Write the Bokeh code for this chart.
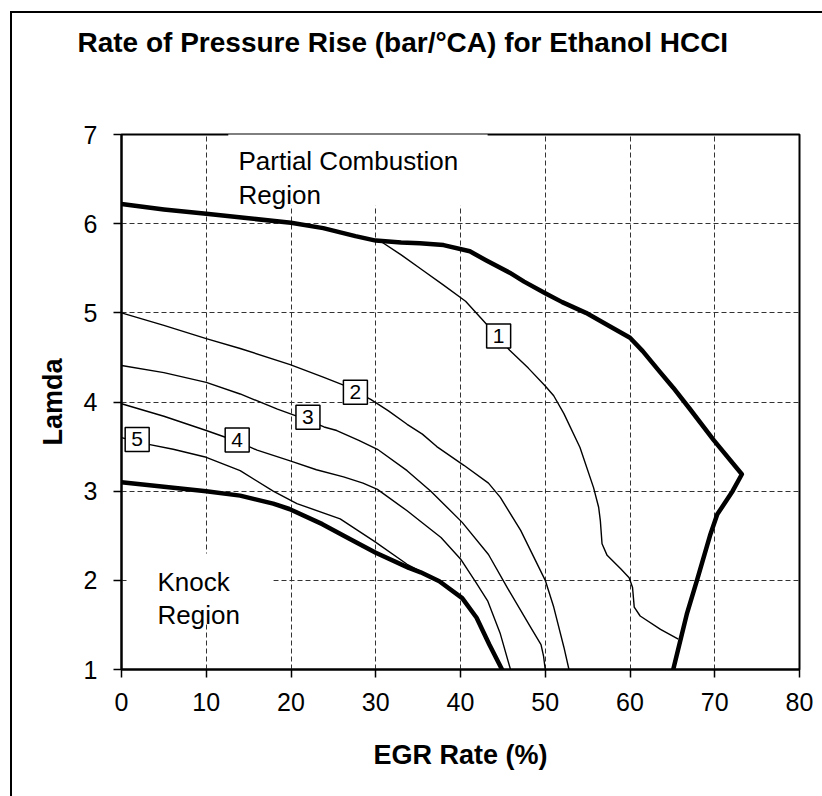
from bokeh.plotting import figure
from bokeh.models import Label, BoxAnnotation, ColumnDataSource, FixedTicker, Range1d, Title
from bokeh.embed import file_html
from bokeh.resources import INLINE
from bokeh.core.properties import value

FONT = "Liberation Sans"

x_ticks = [0, 10, 20, 30, 40, 50, 60, 70, 80]
y_ticks = [1, 2, 3, 4, 5, 6, 7]

# thick outer boundary (partial combustion limit)
upper_x = [0, 5, 10, 15, 20, 23.8, 27.6, 30, 33, 35.2, 38, 41.1, 43.0, 45.8, 47.5, 50, 52, 54.8,
           57.6, 60, 61.5, 63.5, 65.1, 67.0, 69.9, 73.2, 72.1, 70.3, 69.5, 67.9, 66.7, 65.1]
upper_y = [6.22, 6.16, 6.11, 6.06, 6.01, 5.95, 5.86, 5.81, 5.79, 5.78, 5.76, 5.69, 5.59, 5.45, 5.35, 5.22, 5.12, 5.0,
           4.85, 4.72, 4.57, 4.34, 4.16, 3.93, 3.57, 3.19, 3.0, 2.74, 2.52, 2.0, 1.62, 1.0]

# thick lower boundary (knock limit)
lower_x = [0, 5, 10, 14, 17.9, 19.8, 23.7, 27, 30, 33.9, 35.3, 37.5, 40.2, 41.9, 43.4, 44.9]
lower_y = [3.10, 3.05, 3.0, 2.95, 2.86, 2.80, 2.63, 2.46, 2.31, 2.14, 2.09, 1.99, 1.80, 1.58, 1.28, 1.0]

c1_x = [30.3, 33, 35.5, 38, 40.6, 43.1, 44.4, 45.8, 48, 50, 51.0, 52.2, 54.1, 55.7, 56.3, 56.5, 56.7,
        57.3, 58.9, 59.9, 60.3, 60.5, 61.2, 63.6, 65.7]
c1_y = [5.82, 5.65, 5.48, 5.31, 5.13, 4.87, 4.73, 4.58, 4.38, 4.18, 4.07, 3.87, 3.49, 3.04, 2.82, 2.67, 2.41,
        2.28, 2.13, 2.03, 1.92, 1.70, 1.60, 1.45, 1.34]

c2_x = [0, 5, 10, 14, 19.9, 23.8, 26.2, 29.4, 31.5, 33.7, 35.5, 37.2, 40.4, 43.3, 44.7, 47.1, 50.0, 51.0, 52.2, 52.8]
c2_y = [5.0, 4.86, 4.71, 4.60, 4.42, 4.28, 4.19, 4.03, 3.90, 3.75, 3.64, 3.50, 3.29, 3.09, 2.93, 2.56, 2.0, 1.70, 1.25, 1.0]

c3_x = [0, 5, 10, 14, 18.4, 21.9, 23.9, 25.4, 28, 30.2, 33.7, 36.5, 40.2, 43.3, 45.5, 48.3, 49.5, 49.8, 50.0]
c3_y = [4.41, 4.33, 4.22, 4.09, 3.92, 3.80, 3.72, 3.68, 3.57, 3.47, 3.23, 3.0, 2.65, 2.29, 1.92, 1.47, 1.28, 1.15, 1.0]

c4_x = [0, 5, 10, 13.6, 16, 19.9, 23, 26.2, 28.5, 30.2, 33.7, 35.3, 37.7, 40.0, 41.8, 43.2, 44.7, 45.9]
c4_y = [3.98, 3.84, 3.68, 3.56, 3.46, 3.34, 3.24, 3.16, 3.09, 3.02, 2.78, 2.66, 2.48, 2.24, 1.98, 1.77, 1.40, 1.0]

c5_x = [0, 2.9, 6.1, 10, 14, 17.9, 20.7, 25.8, 29.8, 33.7, 35.7, 37.5]
c5_y = [3.60, 3.53, 3.47, 3.38, 3.23, 3.0, 2.86, 2.69, 2.44, 2.18, 2.08, 1.99]

tag_text = ["1", "2", "3", "4", "5"]
tag_x = [44.5, 27.6, 22.0, 13.65, 1.85]
tag_y = [4.74, 4.11, 3.83, 3.575, 3.58]

TITLE = "Rate of Pressure Rise (bar/\u00b0CA) for Ethanol HCCI"

p = figure(width=822, height=796, x_range=Range1d(0, 80), y_range=Range1d(1, 7),
           toolbar_location=None, output_backend="svg",
           min_border_left=121, min_border_right=23, min_border_top=134, min_border_bottom=127)
p.background_fill_color = "white"
p.border_fill_color = None
# outer chart-area frame: left and top edges (the rest is cropped off the page)
p.styles = {"background": "linear-gradient(#000, #000) 10px 11px / 2px 100% no-repeat, "
                          "linear-gradient(#000, #000) 10px 11px / 100% 2px no-repeat, #ffffff"}
p.outline_line_color = "black"
p.outline_line_width = 2

for ax in (p.xaxis[0], p.yaxis[0]):
    ax.axis_line_color = "black"
    ax.axis_line_width = 2
    ax.major_tick_line_color = "black"
    ax.major_tick_line_width = 1.5
    ax.major_tick_out = 8
    ax.major_tick_in = 0
    ax.minor_tick_line_color = None
    ax.major_label_text_font = FONT
    ax.major_label_text_font_size = "25px"
    ax.major_label_text_color = "black"
    ax.axis_label_text_font = FONT
    ax.axis_label_text_font_size = "27px"
    ax.axis_label_text_font_style = "bold"
    ax.axis_label_text_color = "black"

p.xaxis.ticker = FixedTicker(ticks=x_ticks)
p.yaxis.ticker = FixedTicker(ticks=y_ticks)
p.xaxis.axis_label = "EGR Rate (%)"
p.yaxis.axis_label = "Lamda"
p.xaxis.major_label_standoff = 15
p.yaxis.major_label_standoff = 16
p.xaxis.axis_label_standoff = 26
p.yaxis.axis_label_standoff = 13

for g in (p.xgrid[0], p.ygrid[0]):
    g.grid_line_color = "#333333"
    g.grid_line_width = 1
    g.grid_line_dash = "5 3"

thin = dict(line_color="black", line_width=1.4, line_join="round")
thick = dict(line_color="black", line_width=4.5, line_join="round", line_cap="round")

p.line(c1_x, c1_y, **thin)
p.line(c2_x, c2_y, **thin)
p.line(c3_x, c3_y, **thin)
p.line(c4_x, c4_y, **thin)
p.line(c5_x, c5_y, **thin)
p.line(upper_x, upper_y, **thick)
p.line(lower_x, lower_y, **thick)

src = ColumnDataSource(dict(x=tag_x, y=tag_y, t=tag_text))
p.scatter("x", "y", source=src, marker="square", size=24, fill_color="white", line_color="black", line_width=1.5)
p.text("x", "y", text="t", source=src, text_font=value(FONT), text_font_size="21px",
       text_align="center", text_baseline="middle", text_color="black")

# white patches behind region labels
p.add_layout(BoxAnnotation(left=12.6, right=43.2, bottom=6.2, top=7.04, fill_color="white", fill_alpha=1,
                           line_alpha=0))
p.add_layout(BoxAnnotation(left=0.8, right=17.9, bottom=1.52, top=2.30, fill_color="white", fill_alpha=1,
                           line_alpha=0))

lab = dict(text_font=FONT, text_font_size="26px", text_color="black", text_baseline="alphabetic")
p.add_layout(Label(x=13.8, y=6.70, text="Partial Combustion", **lab))
p.add_layout(Label(x=13.8, y=6.32, text="Region", **lab))
p.add_layout(Label(x=4.25, y=1.976, text="Knock", **lab))
p.add_layout(Label(x=4.25, y=1.606, text="Region", **lab))

# spacer panel (blank title, white) next to the frame, then the real chart title above it
p.add_layout(Title(text=" ", text_font=FONT, text_font_size="28px", text_color="white", standoff=44), "above")
p.add_layout(Title(text=TITLE, text_font=FONT, text_font_size="28px", text_font_style="bold",
                   text_color="black", align="left", offset=-44, standoff=0), "above")

open("out.html", "w").write(file_html(p, INLINE))
